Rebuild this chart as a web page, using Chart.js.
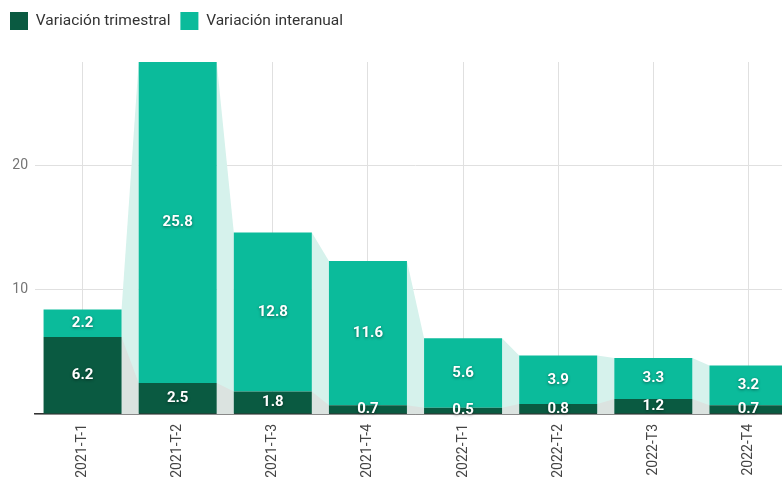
<!DOCTYPE html>
<html>
<head>
<meta charset="utf-8">
<script src="https://cdn.jsdelivr.net/npm/chart.js@4/dist/chart.umd.min.js"></script>
<style>
  html, body { margin: 0; padding: 0; background: #fff; overflow: hidden; }
  #wrap { position: relative; width: 796px; height: 486px; }
</style>
</head>
<body>
<div id="wrap"><canvas id="c"></canvas></div>
<script>
const categories = ['2021-T-1', '2021-T-2', '2021-T-3', '2021-T-4', '2022-T-1', '2022-T-2', '2022-T3', '2022-T4'];
const trimestral = [6.2, 2.5, 1.8, 0.7, 0.5, 0.8, 1.2, 0.7];
const interanual = [2.2, 25.8, 12.8, 11.6, 5.6, 3.9, 3.3, 3.2];
const seriesNames = ['Variación trimestral', 'Variación interanual'];

const DARK = '#0a5a41';
const TEAL = '#0bbb9b';
const CONN_TEAL = '#d6f2ec';
const CONN_GRAY = '#dbe3e0';

const totals = trimestral.map((v, i) => v + interanual[i]);
const yMax = Math.max(...totals);

const legendSpacer = {
  id: 'legendSpacer',
  beforeInit(chart) {
    const orig = chart.legend.fit;
    chart.legend.fit = function () {
      orig.call(this);
      this.height += 22;
    };
  }
};

const connectorPlugin = {
  id: 'connectors',
  beforeDatasetsDraw(chart) {
    const ctx = chart.ctx;
    const m0 = chart.getDatasetMeta(0).data;
    const m1 = chart.getDatasetMeta(1).data;
    const colors = [CONN_TEAL, CONN_GRAY];
    const base = chart.scales.y.getPixelForValue(0);
    [m1, m0].forEach((els, k) => {
      ctx.save();
      ctx.fillStyle = colors[k];
      for (let i = 0; i < els.length - 1; i++) {
        const a = els[i], b = els[i + 1];
        const ax = a.x + a.width / 2, bx = b.x - b.width / 2;
        ctx.beginPath();
        ctx.moveTo(ax, a.y);
        ctx.lineTo(bx, b.y);
        ctx.lineTo(bx, base);
        ctx.lineTo(ax, base);
        ctx.closePath();
        ctx.fill();
      }
      ctx.restore();
    });
  }
};

const labelPlugin = {
  id: 'barLabels',
  afterDatasetsDraw(chart) {
    const ctx = chart.ctx;
    ctx.save();
    ctx.font = 'bold 15px Roboto';
    ctx.textAlign = 'center';
    ctx.textBaseline = 'middle';
    ctx.fillStyle = '#ffffff';
    ctx.shadowColor = 'rgba(0,0,0,0.45)';
    ctx.shadowBlur = 3;
    ctx.shadowOffsetX = 0;
    ctx.shadowOffsetY = 1;
    chart.data.datasets.forEach((ds, di) => {
      chart.getDatasetMeta(di).data.forEach((el, i) => {
        const cy = (el.y + el.base) / 2;
        ctx.fillText(ds.data[i].toFixed(1), el.x, cy);
      });
    });
    ctx.restore();
  }
};

new Chart(document.getElementById('c'), {
  type: 'bar',
  data: {
    labels: categories,
    datasets: [
      { label: seriesNames[0], data: trimestral, backgroundColor: DARK },
      { label: seriesNames[1], data: interanual, backgroundColor: TEAL }
    ]
  },
  options: {
    responsive: true,
    maintainAspectRatio: false,
    animation: false,
    layout: { padding: { left: 0, right: 0, top: 2, bottom: 0 } },
    datasets: { bar: { barPercentage: 0.82, categoryPercentage: 1.0 } },
    plugins: {
      legend: {
        position: 'top',
        align: 'start',
        labels: {
          boxWidth: 18, boxHeight: 18, padding: 10,
          color: '#333333',
          font: { family: 'Roboto', size: 15.5 }
        }
      },
      tooltip: { enabled: false }
    },
    scales: {
      x: {
        stacked: true,
        grid: { offset: false, color: '#e0e0e0', drawTicks: false },
        border: { color: '#333333', width: 1.5 },
        ticks: {
          minRotation: 90, maxRotation: 90, padding: 10,
          color: '#444444',
          font: { family: 'Roboto', size: 14 }
        },
        afterFit(scale) { scale.height = 72; }
      },
      y: {
        stacked: true,
        min: 0,
        max: yMax,
        border: { display: false },
        grid: { color: '#e0e0e0', drawTicks: false },
        ticks: {
          stepSize: 10,
          includeBounds: false,
          padding: 7,
          color: '#757575',
          font: { family: 'Roboto', size: 14 },
          callback: (v) => (v === 0 ? '' : v)
        },
        afterFit(scale) { scale.width = 35; }
      }
    }
  },
  plugins: [legendSpacer, connectorPlugin, labelPlugin]
});
</script>
</body>
</html>
